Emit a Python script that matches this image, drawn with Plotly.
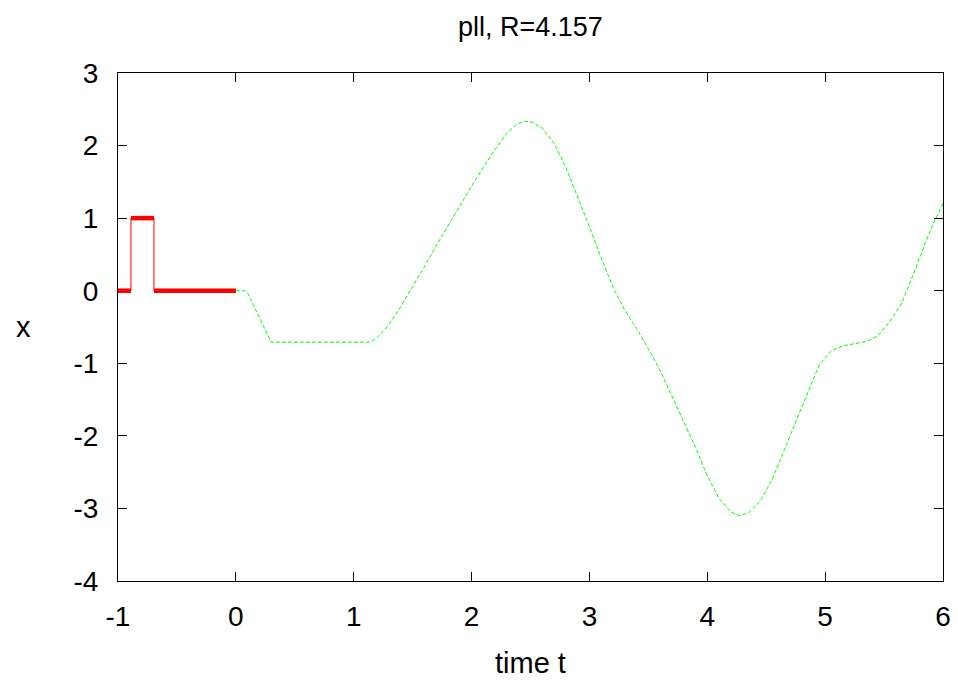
import plotly.graph_objects as go

# --- data ---
red_t = [-1.0, -0.89, -0.695, 0.0]
red_x = [0, 1, 0, 0]

green_t = [0.0, 0.08, 0.10, 0.30, 1.12, 1.16, 1.20, 1.25, 1.30, 1.40, 1.50, 1.60, 1.70, 1.80,
           1.90, 2.00, 2.10, 2.20, 2.30, 2.38, 2.45, 2.52, 2.60, 2.70, 2.80, 2.90, 3.00,
           3.10, 3.20, 3.30, 3.40, 3.50, 3.60, 3.70, 3.80, 3.90, 4.00, 4.10, 4.20, 4.27,
           4.35, 4.45, 4.55, 4.65, 4.75, 4.85, 4.95, 5.05, 5.15, 5.25, 5.35, 5.45, 5.55,
           5.65, 5.75, 5.85, 5.92, 6.00]
green_x = [0.0, 0.0, -0.03, -0.71, -0.71, -0.69, -0.64, -0.56, -0.46, -0.22, 0.06, 0.33, 0.62, 0.90,
           1.17, 1.44, 1.70, 1.95, 2.17, 2.29, 2.335, 2.32, 2.24, 2.03, 1.70, 1.30, 0.88,
           0.45, 0.05, -0.27, -0.52, -0.80, -1.10, -1.45, -1.80, -2.16, -2.55, -2.86, -3.05, -3.10,
           -3.06, -2.90, -2.60, -2.20, -1.80, -1.40, -1.02, -0.83, -0.76, -0.73, -0.70, -0.62, -0.42,
           -0.17, 0.23, 0.66, 0.93, 1.20]

x_ticks = [-1, 0, 1, 2, 3, 4, 5, 6]
y_ticks = [-4, -3, -2, -1, 0, 1, 2, 3]

title_text = "pll, R=4.157"
xlabel = "time t"
ylabel = "x"

FONT = "Liberation Sans, Arial, sans-serif"
FS = 28

# thick horizontal segments from step data
seg_t, seg_x = [], []
for i in range(len(red_t) - 1):
    seg_t += [red_t[i], red_t[i + 1], None]
    seg_x += [red_x[i], red_x[i], None]

fig = go.Figure()
fig.add_trace(go.Scatter(x=red_t, y=red_x, mode="lines", line=dict(color="#ff0000", width=1, shape="hv"),
                         showlegend=False, hoverinfo="skip", cliponaxis=False))
fig.add_trace(go.Scatter(x=seg_t, y=seg_x, mode="lines", line=dict(color="#ff0000", width=4.5),
                         showlegend=False, hoverinfo="skip", cliponaxis=False))
fig.add_trace(go.Scatter(x=green_t, y=green_x, mode="lines",
                         line=dict(color="#00ff00", width=1, dash="4px,2px"),
                         showlegend=False, hoverinfo="skip"))

axis_common = dict(showgrid=False, zeroline=False, showline=True, linecolor="black", linewidth=1,
                   mirror="allticks", ticks="inside", ticklen=9, tickcolor="black", tickwidth=1,
                   layer="below traces",
                   tickfont=dict(family=FONT, size=FS, color="black"))

fig.update_xaxes(range=[-1, 6], tickvals=x_ticks, ticktext=[str(v) for v in x_ticks],
                 ticklabelstandoff=10, **axis_common)
fig.update_yaxes(range=[-4, 3], tickvals=y_ticks, ticktext=[str(v) for v in y_ticks],
                 ticklabelstandoff=13, **axis_common)

fig.update_layout(
    width=958, height=683,
    margin=dict(l=118, r=15, t=73, b=102, autoexpand=False),
    plot_bgcolor="white", paper_bgcolor="white",
    font=dict(family=FONT, size=FS, color="black"),
    annotations=[
        dict(text=title_text, xref="paper", yref="paper", x=0.5, y=1, yshift=46,
             showarrow=False, xanchor="center", yanchor="middle", font=dict(size=27)),
        dict(text=xlabel, xref="paper", yref="paper", x=0.5, y=0, yshift=-82,
             showarrow=False, xanchor="center", yanchor="middle", font=dict(size=29)),
        dict(text=ylabel, xref="paper", yref="paper", x=0, y=0.5, xshift=-95,
             showarrow=False, xanchor="center", yanchor="middle", font=dict(size=29)),
    ],
)

fig.write_html("out.html")
